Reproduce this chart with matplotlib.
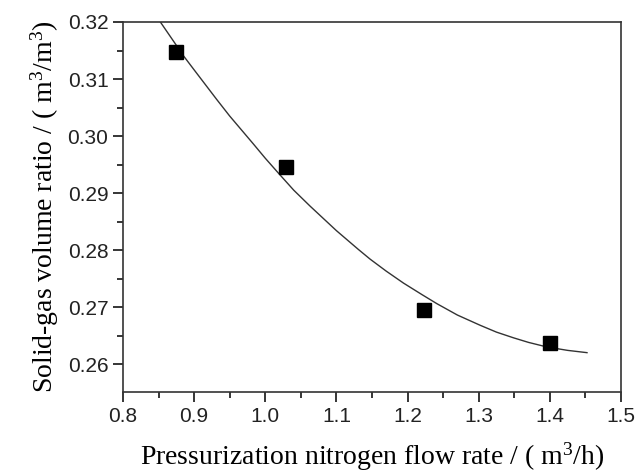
import matplotlib
matplotlib.use("Agg")
import matplotlib.pyplot as plt
from matplotlib.ticker import MultipleLocator, FormatStrFormatter

# Measured data points
flow_rate = [0.8745, 1.0288, 1.2224, 1.3996]
ratio = [0.3148, 0.2945, 0.2695, 0.2637]

# Fitted curve
curve_x = [0.8525, 0.8745, 0.8848, 0.9000, 0.9318, 0.9500, 0.9833, 1.0000,
           1.0184, 1.0400, 1.0630, 1.1000, 1.1309, 1.1474, 1.1700, 1.1943,
           1.2200, 1.2411, 1.2700, 1.3021, 1.3250, 1.3490, 1.3700, 1.3958,
           1.4250, 1.4522]
curve_y = [0.3200, 0.3160, 0.3141, 0.3116, 0.3064, 0.3035, 0.2986, 0.2961,
           0.2935, 0.2905, 0.2877, 0.2834, 0.2801, 0.2784, 0.2763, 0.2742,
           0.2722, 0.2706, 0.2686, 0.2668, 0.2656, 0.2646, 0.2638, 0.2630,
           0.2624, 0.2620]

xlabel = r"Pressurization nitrogen flow rate / ( m$^{3}$/h)"
ylabel = r"Solid-gas volume ratio / ( m$^{3}$/m$^{3}$)"

plt.rcParams['mathtext.fontset'] = 'custom'
plt.rcParams['mathtext.rm'] = 'Liberation Serif'
plt.rcParams['mathtext.it'] = 'Liberation Serif:italic'

fig = plt.figure(figsize=(6.36, 4.72), dpi=100)
ax = fig.add_axes([0.1934, 0.1695, 0.783, 0.7839])

ax.plot(curve_x, curve_y, color='#333333', lw=1.0, zorder=2)
ax.plot(flow_rate, ratio, 's', color='black', ms=10, zorder=3)

ax.set_xlim(0.8, 1.5)
ax.set_ylim(0.2551, 0.32)
ax.xaxis.set_major_locator(MultipleLocator(0.1))
ax.xaxis.set_minor_locator(MultipleLocator(0.05))
ax.yaxis.set_major_locator(MultipleLocator(0.01))
ax.yaxis.set_minor_locator(MultipleLocator(0.005))
ax.xaxis.set_major_formatter(FormatStrFormatter('%.1f'))
ax.yaxis.set_major_formatter(FormatStrFormatter('%.2f'))

ax.tick_params(which='major', direction='out', length=7, width=1.1,
               labelsize=15, top=False, right=False)
ax.tick_params(which='minor', direction='out', length=4, width=1.1,
               top=False, right=False)
for lab in ax.get_xticklabels() + ax.get_yticklabels():
    lab.set_fontfamily('Liberation Sans')
    lab.set_color('#222222')
for s in ax.spines.values():
    s.set_linewidth(1.2)
    s.set_color('#333333')

ax.set_xlabel(xlabel, fontfamily='Liberation Serif', fontsize=20, labelpad=11)
ax.set_ylabel(ylabel, fontfamily='Liberation Serif', fontsize=20, labelpad=5)

fig.savefig('out.png', dpi=100)
